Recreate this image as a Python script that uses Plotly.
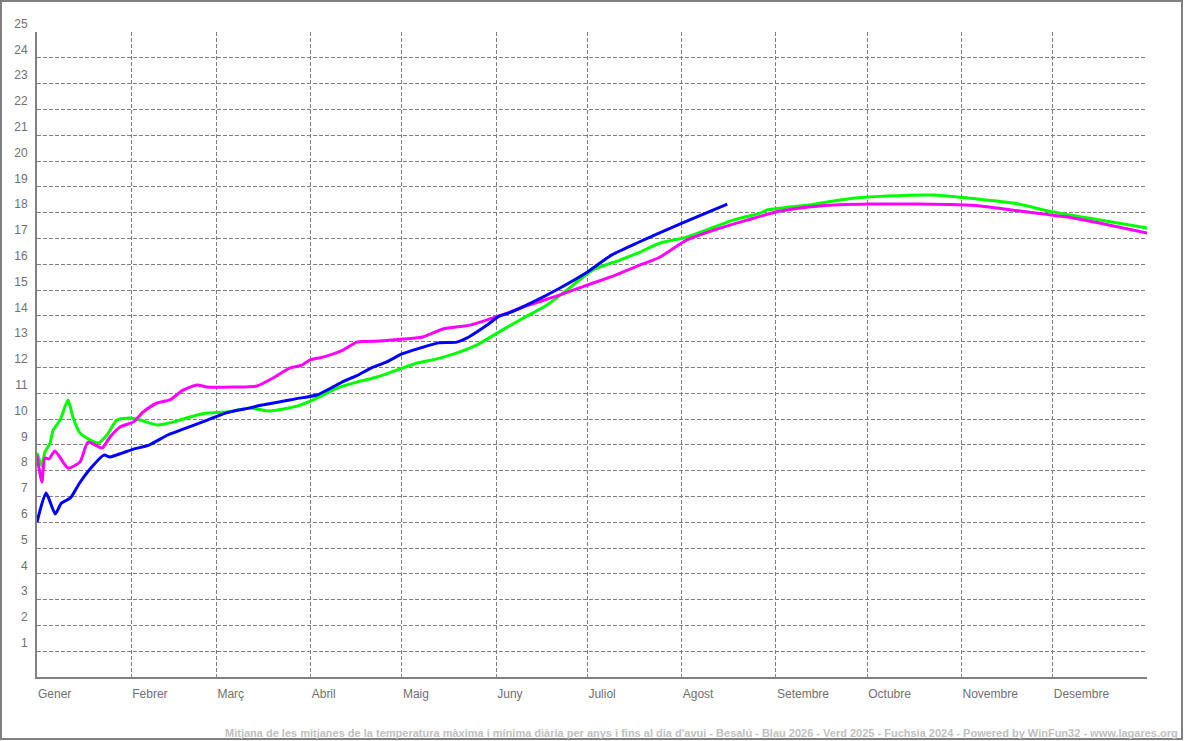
import plotly.graph_objects as go

# ---- data (day of year, mean temperature °C) ----
month_labels = ["Gener", "Febrer", "Març", "Abril", "Maig", "Juny", "Juliol",
                "Agost", "Setembre", "Octubre", "Novembre", "Desembre"]
month_starts = [0, 31, 59, 90, 120, 151, 181, 212, 243, 273, 304, 334]
y_ticks = list(range(1, 26))

days_2026 = [0, 3, 6, 8, 11, 14, 18, 22, 24, 28, 32, 37, 43, 49, 56, 62, 70, 74,
             85, 92, 96, 101, 105, 110, 115, 120, 126, 132, 138, 142, 148, 152,
             155, 163, 172, 181, 189, 198, 207, 216, 227]
temp_2026 = [6.0, 7.13, 6.32, 6.74, 6.94, 7.52, 8.14, 8.6, 8.53, 8.68, 8.84, 9.0,
             9.38, 9.65, 9.96, 10.23, 10.43, 10.54, 10.78, 10.93, 11.16, 11.47,
             11.67, 11.98, 12.21, 12.52, 12.75, 12.95, 12.98, 13.18, 13.64, 13.99,
             14.1, 14.53, 15.08, 15.7, 16.36, 16.86, 17.33, 17.79, 18.33]

days_2025 = [0, 1.6, 2.6, 4.3, 5.3, 7.6, 10.2, 11.8, 14.1, 16.4, 20.1, 23.0, 26.3,
             30.6, 33.9, 39.5, 44.7, 50.3, 55.9, 62.5, 70.0, 76.6, 85.5, 90.8,
             98.7, 105.2, 111.8, 118.4, 125.0, 131.5, 138.1, 144.7, 151.3, 158.8,
             167.7, 174.3, 182.8, 191.7, 198.3, 204.9, 213.7, 220.3, 228.9, 237.8,
             240.0, 253.2, 266.4, 279.5, 294.6, 305.8, 321.0, 334.1, 349.6, 365]
temp_2025 = [8.68, 8.18, 8.72, 9.07, 9.57, 9.96, 10.74, 10.08, 9.46, 9.26, 9.07,
             9.38, 9.96, 10.04, 9.96, 9.77, 9.88, 10.08, 10.23, 10.27, 10.43, 10.31,
             10.5, 10.74, 11.2, 11.43, 11.63, 11.9, 12.17, 12.33, 12.56, 12.87,
             13.33, 13.84, 14.42, 15.0, 15.78, 16.16, 16.47, 16.82, 17.05, 17.33,
             17.71, 17.98, 18.1, 18.29, 18.53, 18.64, 18.68, 18.57, 18.37, 18.02,
             17.71, 17.4]

days_2024 = [0, 1.6, 2.6, 3.9, 5.9, 10.2, 14.1, 16.8, 21.4, 24.0, 27.3, 31.6, 34.9,
             39.5, 43.7, 48.0, 52.6, 55.9, 64.5, 72.3, 77.6, 83.2, 87.1, 89.8, 94.0,
             100.6, 105.2, 112.8, 120.4, 126.9, 133.5, 142.4, 149.0, 154.6, 159.8,
             172.0, 180.9, 189.4, 198.3, 204.9, 213.7, 224.6, 233.5, 244.3, 257.5,
             273.9, 290.4, 310.1, 323.2, 340.7, 365]
temp_2024 = [8.6, 7.56, 8.49, 8.45, 8.76, 8.1, 8.33, 9.1, 8.88, 9.3, 9.69, 9.88,
             10.27, 10.62, 10.74, 11.12, 11.32, 11.24, 11.24, 11.28, 11.59, 11.98,
             12.09, 12.29, 12.4, 12.67, 12.98, 13.02, 13.1, 13.18, 13.49, 13.64,
             13.88, 14.1, 14.34, 14.81, 15.19, 15.54, 15.97, 16.28, 16.94, 17.4,
             17.71, 18.06, 18.26, 18.33, 18.33, 18.26, 18.06, 17.79, 17.21]

footer = ("Mitjana de les mitjanes de la temperatura màxima i mínima diària per anys "
          "i fins al dia d'avui - Besalú - Blau 2026 - Verd 2025 - Fuchsia 2024 - "
          "Powered by WinFun32 - www.lagares.org")

W, H = 1184, 741
L, R, T, B = 37, 37, 32, 64
PW, PH = W - L - R, H - T - B

fig = go.Figure()
for d, t, c in [(days_2025, temp_2025, "#00FF00"),
                (days_2024, temp_2024, "#FF00FF"),
                (days_2026, temp_2026, "#0000FF")]:
    fig.add_trace(go.Scatter(x=d, y=t, mode="lines",
                             line=dict(color=c, width=3, shape="spline", smoothing=0.6),
                             showlegend=False, hoverinfo="skip"))

axis_font = dict(family="Liberation Sans, Arial, sans-serif", size=12, color="#707070")

fig.update_layout(
    width=W, height=H,
    margin=dict(l=L, r=R, t=T, b=B, autoexpand=False),
    paper_bgcolor="white", plot_bgcolor="white",
    showlegend=False,
    xaxis=dict(range=[0, 365], tickmode="array",
               tickvals=month_starts + [365], ticktext=month_labels + [""],
               ticklabelposition="outside right", ticks="",
               ticklabelstandoff=5,
               showgrid=True, gridcolor="#808080", gridwidth=1, griddash="4px,2px",
               showline=True, linecolor="#808080", linewidth=2,
               zeroline=False, tickfont=axis_font, fixedrange=True),
    yaxis=dict(range=[0, 25], tickmode="array",
               tickvals=y_ticks, ticktext=[str(v) for v in y_ticks],
               ticklabelposition="outside top", ticks="",
               ticklabelstandoff=5,
               showgrid=True, gridcolor="#808080", gridwidth=1, griddash="4px,2px",
               showline=True, linecolor="#808080", linewidth=2,
               zeroline=False, tickfont=axis_font, fixedrange=True),
)

fig.add_annotation(text=footer, xref="paper", yref="paper",
                   x=(1180 - L) / PW, y=-(733 - (T + PH)) / PH,
                   xanchor="right", yanchor="middle", showarrow=False,
                   font=dict(family="Liberation Sans, Arial, sans-serif", size=11,
                             color="#c0c0c0", weight="bold"))

fig.add_shape(type="rect", xref="paper", yref="paper",
              x0=(1 - L) / PW, x1=(1182 - L) / PW,
              y0=((T + PH) - 739) / PH, y1=((T + PH) - 1) / PH,
              line=dict(color="#808080", width=2), fillcolor="rgba(0,0,0,0)",
              layer="above")

fig.write_html("out.html",
               config={"displayModeBar": False},
               post_script="document.body.style.margin='0';"
                           "document.body.style.overflow='hidden';")
